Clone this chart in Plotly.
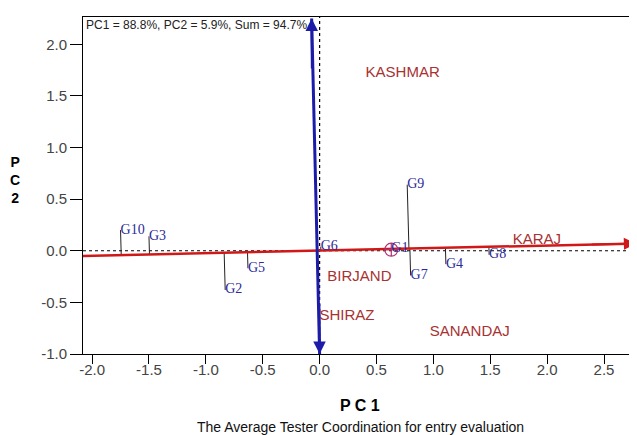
import numpy as np
import plotly.graph_objects as go

# Genotype scores (PC1, PC2)
geno_names = ["G10", "G3", "G2", "G5", "G6", "G1", "G9", "G7", "G4", "G8"]
geno_pc1 = [-1.75, -1.50, -0.83, -0.63, 0.01, 0.63, 0.77, 0.80, 1.11, 1.49]
geno_pc2 = [0.20, 0.14, -0.38, -0.17, 0.04, 0.02, 0.64, -0.24, -0.13, -0.04]

# Environment (tester) label positions
env_names = ["KASHMAR", "BIRJAND", "SHIRAZ", "SANANDAJ", "KARAJ"]
env_pc1 = [0.73, 0.35, 0.24, 1.32, 1.91]
env_pc2 = [1.72, -0.26, -0.63, -0.79, 0.10]

# Average tester axis (ATC abscissa) end points and ordinate end points
atc_x = [-2.08, 2.78]
atc_y = [-0.05, 0.07]
ord_x = [-0.07, 0.0]
ord_y = [2.25, -1.0]

x_ticks = [-2.0, -1.5, -1.0, -0.5, 0.0, 0.5, 1.0, 1.5, 2.0, 2.5]
x_tick_labels = ["-2.0", "-1.5", "-1.0", "-0.5", "0.0", "0.5", "1.0", "1.5", "2.0", "2.5"]
y_ticks = [-1.0, -0.5, 0.0, 0.5, 1.0, 1.5, 2.0]
y_tick_labels = ["-1.0", "-0.5", "0.0", "0.5", "1.0", "1.5", "2.0"]
x_range = [-2.08, 2.79]
y_range = [-1.0, 2.264]

fig = go.Figure()

# reference dotted lines through origin
fig.add_trace(go.Scatter(x=x_range, y=[0, 0], mode="lines",
                         line=dict(color="black", width=1, dash="dot"),
                         hoverinfo="skip", showlegend=False))
fig.add_trace(go.Scatter(x=[0, 0], y=y_range, mode="lines",
                         line=dict(color="black", width=1.2, dash="dot"),
                         hoverinfo="skip", showlegend=False))

# projection lines from genotypes onto the ATC axis
d = np.array([atc_x[1] - atc_x[0], atc_y[1] - atc_y[0]])
d = d / np.linalg.norm(d)
p0 = np.array([atc_x[0], atc_y[0]])
lx, ly = [], []
for gx, gy in zip(geno_pc1, geno_pc2):
    v = np.array([gx, gy]) - p0
    proj = p0 + d * v.dot(d)
    lx += [gx, proj[0], None]
    ly += [gy, proj[1], None]
fig.add_trace(go.Scatter(x=lx, y=ly, mode="lines",
                         line=dict(color="#222222", width=1),
                         hoverinfo="skip", showlegend=False))

# ATC abscissa (red)
fig.add_trace(go.Scatter(x=atc_x, y=atc_y, mode="lines",
                         line=dict(color="#d01818", width=2.5),
                         hoverinfo="skip", showlegend=False))
fig.add_annotation(x=atc_x[1], y=atc_y[1], ax=atc_x[1] - 0.4,
                   ay=atc_y[1] - 0.4 * d[1] / d[0],
                   xref="x", yref="y", axref="x", ayref="y", text="",
                   showarrow=True, arrowhead=2, arrowsize=1.2, arrowwidth=2,
                   arrowcolor="#d01818")

# ATC ordinate (blue) with arrows at both ends
fig.add_trace(go.Scatter(x=ord_x, y=ord_y, mode="lines",
                         line=dict(color="#1c1ca8", width=3),
                         hoverinfo="skip", showlegend=False))
fig.add_annotation(x=ord_x[0], y=ord_y[0], ax=ord_x[0] + 0.004, ay=ord_y[0] - 0.5,
                   xref="x", yref="y", axref="x", ayref="y", text="",
                   showarrow=True, arrowhead=2, arrowsize=1, arrowwidth=2.5,
                   arrowcolor="#1c1ca8")
fig.add_annotation(x=ord_x[1], y=ord_y[1], ax=ord_x[1] - 0.004, ay=ord_y[1] + 0.5,
                   xref="x", yref="y", axref="x", ayref="y", text="",
                   showarrow=True, arrowhead=2, arrowsize=1, arrowwidth=2.5,
                   arrowcolor="#1c1ca8")

# average environment marker
fig.add_trace(go.Scatter(x=[geno_pc1[5]], y=[geno_pc2[5] - 0.01], mode="markers",
                         marker=dict(symbol="circle-cross-open", size=13,
                                     color="#b03070", line=dict(width=1.2)),
                         hoverinfo="skip", showlegend=False))

# genotype labels
fig.add_trace(go.Scatter(x=geno_pc1, y=geno_pc2, mode="text", text=geno_names,
                         textposition="middle right",
                         textfont=dict(family="Liberation Serif", size=14,
                                       color="#2b2b9a"),
                         hoverinfo="skip", showlegend=False))

# environment labels
fig.add_trace(go.Scatter(x=env_pc1, y=env_pc2, mode="text", text=env_names,
                         textposition="middle center",
                         textfont=dict(family="Liberation Sans", size=15,
                                       color="#a83232"),
                         hoverinfo="skip", showlegend=False))

fig.add_annotation(x=0, y=1, xref="paper", yref="paper", xanchor="left",
                   yanchor="top", xshift=1, yshift=1,
                   text="PC1 = 88.8%, PC2 = 5.9%, Sum = 94.7%", showarrow=False,
                   font=dict(family="Liberation Sans", size=12, color="#222222"))

fig.add_annotation(x=0, y=0.69, xref="paper", yref="y", xanchor="center",
                   yanchor="middle", xshift=-68, text="<b>P<br>C<br>2</b>",
                   showarrow=False,
                   font=dict(family="Liberation Sans", size=14, color="black"))

fig.add_annotation(x=0.5, y=0, xref="paper", yref="paper", xanchor="center",
                   yanchor="middle", yshift=-51, text="<b>P C 1</b>",
                   showarrow=False,
                   font=dict(family="Liberation Sans", size=16, color="black"))

fig.add_annotation(x=0.5, y=0, xref="paper", yref="paper", xanchor="center",
                   yanchor="middle", yshift=-73,
                   text="The Average Tester Coordination for entry evaluation",
                   showarrow=False,
                   font=dict(family="Liberation Sans", size=14, color="#111111"))

fig.update_layout(
    width=629, height=427,
    margin=dict(l=75, r=0, t=9, b=81),
    paper_bgcolor="white", plot_bgcolor="white",
    showlegend=False,
    font=dict(family="Liberation Sans", color="#444444"),
    xaxis=dict(range=x_range, tickvals=x_ticks, ticktext=x_tick_labels,
               showgrid=False, zeroline=False, showline=True, mirror=True,
               linecolor="black", linewidth=1, ticks="outside", ticklen=2,
               tickcolor="black", tickfont=dict(size=15, color="#444444"),
               minor=dict(tickmode="array", tickvals=x_ticks, ticks="outside",
                          ticklen=9, tickcolor="black", showgrid=False)),
    yaxis=dict(range=y_range, tickvals=y_ticks, ticktext=y_tick_labels,
               showgrid=False, zeroline=False, showline=True, mirror=True,
               linecolor="black", linewidth=1, ticks="outside", ticklen=12,
               tickcolor="black", tickfont=dict(size=15, color="#444444")),
)

fig.write_html("out.html")
